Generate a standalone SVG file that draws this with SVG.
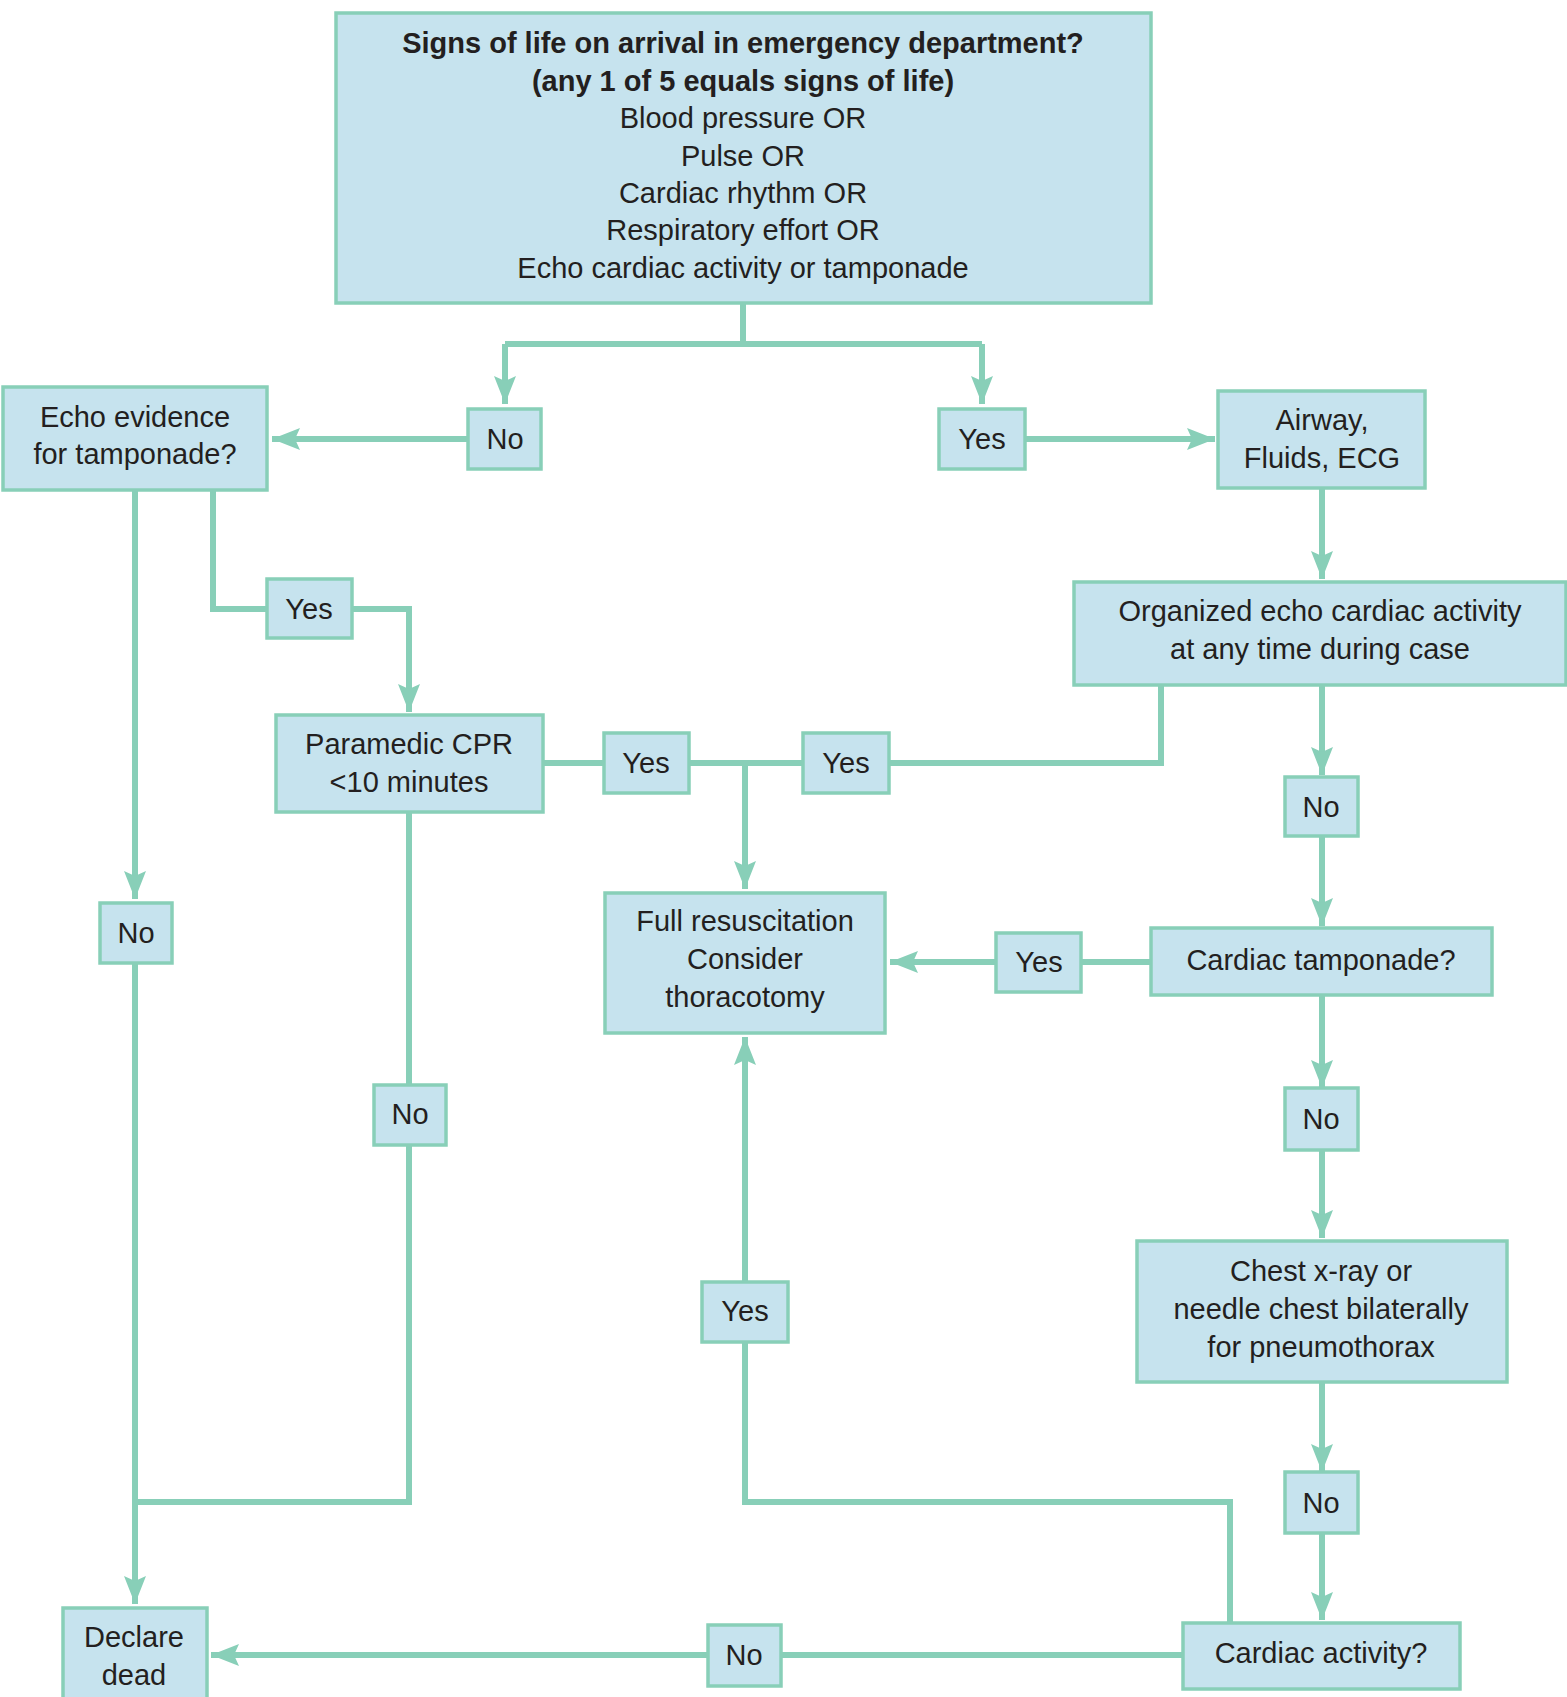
<svg xmlns="http://www.w3.org/2000/svg" width="1567" height="1697" viewBox="0 0 1567 1697">
<style>
.b{fill:#c6e3ee;stroke:#88cfb8;stroke-width:3.5}
text{font-family:"Liberation Sans",Arial,sans-serif;font-size:29px;fill:#231f20;text-anchor:middle;dominant-baseline:central}
.bd{font-weight:bold}
.c{fill:none;stroke:#88cfb8;stroke-width:6;stroke-linejoin:miter}
</style>
<defs>
<marker id="a" markerUnits="userSpaceOnUse" markerWidth="30" markerHeight="24" refX="28" refY="12" orient="auto">
<path d="M0,1 L28,12 L0,23 L5,12 Z" fill="#88cfb8"/>
</marker>
</defs>
<rect width="1567" height="1697" fill="#fff"/>
<g id="connectors">
<path class="c" d="M743,303 V344 M505,344 H982"/>
<path class="c" d="M505,344 V404" marker-end="url(#a)"/>
<path class="c" d="M982,344 V404" marker-end="url(#a)"/>
<path class="c" d="M468,439 H272" marker-end="url(#a)"/>
<path class="c" d="M1025,439 H1215" marker-end="url(#a)"/>
<path class="c" d="M1322,488 V579" marker-end="url(#a)"/>
<path class="c" d="M1161,685 V763 H889"/>
<path class="c" d="M543,763 H604 M689,763 H803"/>
<path class="c" d="M745,763 V889" marker-end="url(#a)"/>
<path class="c" d="M135,490 V899" marker-end="url(#a)"/>
<path class="c" d="M135,963 V1604" marker-end="url(#a)"/>
<path class="c" d="M213,490 V609 H267 M352,609 H409 V712" marker-end="url(#a)"/>
<path class="c" d="M409,812 V1085 M409,1145 V1502 H135"/>
<path class="c" d="M1322,685 V775" marker-end="url(#a)"/>
<path class="c" d="M1322,836 V926" marker-end="url(#a)"/>
<path class="c" d="M1151,962 H1081"/>
<path class="c" d="M996,962 H890" marker-end="url(#a)"/>
<path class="c" d="M1322,995 V1088" marker-end="url(#a)"/>
<path class="c" d="M1322,1150 V1238" marker-end="url(#a)"/>
<path class="c" d="M1322,1382 V1472" marker-end="url(#a)"/>
<path class="c" d="M1322,1533 V1620" marker-end="url(#a)"/>
<path class="c" d="M1230,1623 V1502 H745 V1342"/>
<path class="c" d="M745,1282 V1037" marker-end="url(#a)"/>
<path class="c" d="M1183,1655 H781"/>
<path class="c" d="M708,1655 H211" marker-end="url(#a)"/>
</g>
<g id="start"><rect class="b" x="336" y="13" width="815" height="290"/>
<text x="743" y="43" class="bd">Signs of life on arrival in emergency department?</text>
<text x="743" y="81" class="bd">(any 1 of 5 equals signs of life)</text>
<text x="743" y="118">Blood pressure OR</text>
<text x="743" y="156">Pulse OR</text>
<text x="743" y="193">Cardiac rhythm OR</text>
<text x="743" y="230">Respiratory effort OR</text>
<text x="743" y="268">Echo cardiac activity or tamponade</text></g>
<g id="no1"><rect class="b" x="468" y="409" width="73" height="60"/><text x="505" y="439">No</text></g>
<g id="yes1"><rect class="b" x="939" y="409" width="86" height="60"/><text x="982" y="439">Yes</text></g>
<g id="echo"><rect class="b" x="3" y="387" width="264" height="103"/><text x="135" y="417">Echo evidence</text><text x="135" y="454">for tamponade?</text></g>
<g id="airway"><rect class="b" x="1218" y="391" width="207" height="97"/><text x="1322" y="420">Airway,</text><text x="1322" y="458">Fluids, ECG</text></g>
<g id="organized"><rect class="b" x="1074" y="582" width="492" height="103"/><text x="1320" y="611">Organized echo cardiac activity</text><text x="1320" y="649">at any time during case</text></g>
<g id="yes2"><rect class="b" x="267" y="579" width="85" height="59"/><text x="309" y="609">Yes</text></g>
<g id="paramedic"><rect class="b" x="276" y="715" width="267" height="97"/><text x="409" y="744">Paramedic CPR</text><text x="409" y="782">&lt;10 minutes</text></g>
<g id="yes3"><rect class="b" x="604" y="733" width="85" height="60"/><text x="646" y="763">Yes</text></g>
<g id="yes4"><rect class="b" x="803" y="733" width="86" height="60"/><text x="846" y="763">Yes</text></g>
<g id="no2"><rect class="b" x="1285" y="777" width="73" height="59"/><text x="1321" y="807">No</text></g>
<g id="full"><rect class="b" x="605" y="893" width="280" height="140"/><text x="745" y="921">Full resuscitation</text><text x="745" y="959">Consider</text><text x="745" y="997">thoracotomy</text></g>
<g id="no3"><rect class="b" x="100" y="903" width="72" height="60"/><text x="136" y="933">No</text></g>
<g id="tamponade"><rect class="b" x="1151" y="928" width="341" height="67"/><text x="1321" y="960">Cardiac tamponade?</text></g>
<g id="yes5"><rect class="b" x="996" y="933" width="85" height="59"/><text x="1039" y="962">Yes</text></g>
<g id="no4"><rect class="b" x="374" y="1085" width="72" height="60"/><text x="410" y="1114">No</text></g>
<g id="no5"><rect class="b" x="1285" y="1088" width="73" height="62"/><text x="1321" y="1119">No</text></g>
<g id="chest"><rect class="b" x="1137" y="1241" width="370" height="141"/><text x="1321" y="1271">Chest x-ray or</text><text x="1321" y="1309">needle chest bilaterally</text><text x="1321" y="1347">for pneumothorax</text></g>
<g id="yes6"><rect class="b" x="702" y="1282" width="86" height="60"/><text x="745" y="1311">Yes</text></g>
<g id="no6"><rect class="b" x="1285" y="1472" width="73" height="61"/><text x="1321" y="1503">No</text></g>
<g id="activity"><rect class="b" x="1183" y="1623" width="277" height="66"/><text x="1321" y="1653">Cardiac activity?</text></g>
<g id="no7"><rect class="b" x="708" y="1625" width="73" height="61"/><text x="744" y="1655">No</text></g>
<g id="dead"><rect class="b" x="63" y="1608" width="144" height="95"/><text x="134" y="1637">Declare</text><text x="134" y="1675">dead</text></g>
</svg>
